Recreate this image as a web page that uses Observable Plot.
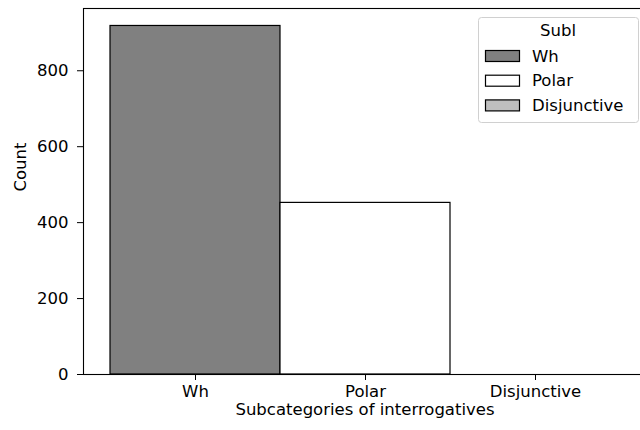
<!DOCTYPE html>
<html><head><meta charset="utf-8">
<script src="https://cdn.jsdelivr.net/npm/d3@7"></script>
<script src="https://cdn.jsdelivr.net/npm/@observablehq/plot@0.6"></script>
<style>
body{margin:0;overflow:hidden;background:#fff;width:640px;height:430px}
#chart{position:relative;width:660px}
</style>
</head><body><div id="chart"></div>
<script>
const categories = ["Wh", "Polar", "Disjunctive"];
const counts = [918, 452, 0];
const colors = ["#808080", "#ffffff", "#bfbfbf"];
const yTicks = [0, 200, 400, 600, 800];
const legendTitle = "Subl";
const xLabel = "Subcategories of interrogatives";
const yLabel = "Count";

const data = categories.map((c, i) => ({cat: c, count: counts[i]}));

const W = 660, H = 430, ML = 83, MR = 14, MT = 8, MB = 56;
const FONT = "DejaVu Sans";
const FS = 16.5;

const chart = Plot.plot({
  width: W, height: H,
  marginLeft: ML, marginRight: MR, marginTop: MT, marginBottom: MB,
  style: {fontFamily: FONT, fontSize: FS + "px", color: "#000", background: "#fff", overflow: "visible", maxWidth: "none"},
  x: {domain: categories, paddingInner: 0, paddingOuter: 0.148, align: 0.5, label: null},
  y: {domain: [0, 964], label: null},
  color: {domain: categories, range: colors},
  marks: [
    Plot.barY(data, {x: "cat", y: "count", fill: "cat", stroke: "#000", strokeWidth: 1.2, inset: 0}),
    Plot.axisX({tickSize: 6, tickPadding: 5, label: null, fontSize: FS, stroke: "#000"}),
    Plot.axisY({ticks: yTicks, tickSize: 6, tickPadding: 9, label: null, fontSize: FS, stroke: "#000"}),
    Plot.frame({stroke: "#000", strokeWidth: 1.1}),
    Plot.text([xLabel], {frameAnchor: "bottom", dy: 40.5, fontSize: FS, fill: "#000"}),
    Plot.text([yLabel], {frameAnchor: "left", dx: -63, rotate: -90, fontSize: FS, fill: "#000"})
  ]
});
document.getElementById("chart").appendChild(chart);

// legend drawn inside the SVG, keyed from the categories / colors arrays
const svg = d3.select(chart);
const lg = svg.append("g").attr("font-family", FONT).attr("font-size", FS).attr("text-anchor", "start");
const lx = 478, ly = 17, lw = 160, lh = 105;
lg.append("rect").attr("x", lx + 0.5).attr("y", ly + 0.5).attr("width", lw).attr("height", lh)
  .attr("rx", 3).attr("fill", "#fff").attr("fill-opacity", 0.8).attr("stroke", "#d0d0d0");
lg.append("text").attr("x", lx + lw / 2).attr("y", ly + 13).attr("dy", "0.35em")
  .attr("text-anchor", "middle").text(legendTitle);
categories.forEach((c, i) => {
  const cy = ly + 39 + i * 24.7;
  lg.append("rect").attr("x", lx + 7.5).attr("y", cy - 5.5).attr("width", 34).attr("height", 11)
    .attr("fill", colors[i]).attr("stroke", "#000").attr("stroke-width", 1.2);
  lg.append("text").attr("x", lx + 54).attr("y", cy).attr("dy", "0.35em").text(c);
});
</script>
</body></html>
